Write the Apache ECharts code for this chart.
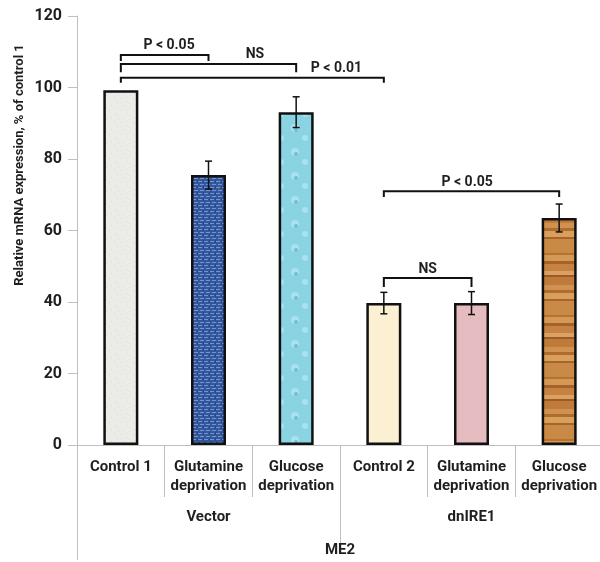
<!DOCTYPE html>
<html>
<head>
<meta charset="utf-8">
<script src="https://cdn.jsdelivr.net/npm/echarts@6/dist/echarts.min.js"></script>
<style>html,body{margin:0;padding:0;background:#fff}#c{width:600px;height:562px}</style>
</head>
<body>
<div id="c"></div>
<script>
// ---- data ----
const categories = ['Control 1', 'Glutamine\ndeprivation', 'Glucose\ndeprivation', 'Control 2', 'Glutamine\ndeprivation', 'Glucose\ndeprivation'];
const groups = ['Vector', 'dnIRE1'];
const topGroup = ['ME2'];
const values = [99.2, 75.5, 93.1, 39.7, 39.7, 63.5];
const errors = [0, 3.9, 4.3, 3.0, 3.2, 3.9];
const yTicks = [0, 20, 40, 60, 80, 100, 120];
const bracketFrom = [0, 0, 0, 3, 3];
const bracketTo = [1, 2, 3, 4, 5];
const bracketTop = [109.1, 106.6, 102.7, 46.7, 71.0];
const bracketLeg = [107.4, 104.3, 101.3, 44.2, 69.4];
const bracketLabelPos = [0.55, 1.53, 2.46, 3.5, 3.95];
const bracketLabels = ['P < 0.05', 'NS', 'P < 0.01', 'NS', 'P < 0.05'];
const yTitle = 'Relative mRNA expression, % of control 1';

// ---- texture helpers (style only) ----
function tile(w, h, draw) {
  const c = document.createElement('canvas');
  c.width = w; c.height = h;
  draw(c.getContext('2d'));
  return { image: c, repeat: 'repeat' };
}
const fills = [
  tile(12, 12, g => { g.fillStyle = '#ebebe8'; g.fillRect(0,0,12,12); g.fillStyle = '#dcdcd8';
    [[1,2],[6,1],[9,7],[3,9],[7,5],[10,11]].forEach(p => g.fillRect(p[0],p[1],1,1)); }),
  tile(6, 6, g => { g.fillStyle = '#34589f'; g.fillRect(0,0,6,6); g.fillStyle = '#7593cc';
    g.fillRect(0,1,4,1); g.fillRect(2,4,4,1); g.fillStyle = '#27467f'; g.fillRect(5,0,1,3); }),
  tile(24, 24, g => { g.fillStyle = '#8ad3e2'; g.fillRect(0,0,24,24);
    g.fillStyle = '#a9e2ee'; g.beginPath(); g.arc(7,8,4,0,Math.PI*2); g.fill();
    g.beginPath(); g.arc(17,18,3,0,Math.PI*2); g.fill();
    g.fillStyle = '#6cbfd3'; g.beginPath(); g.arc(8,10,2,0,Math.PI*2); g.fill(); }),
  tile(8, 8, g => { g.fillStyle = '#fcf0d3'; g.fillRect(0,0,8,8); }),
  tile(8, 8, g => { g.fillStyle = '#e5bcc0'; g.fillRect(0,0,8,8); g.fillStyle = '#dbaeb3'; g.fillRect(2,3,1,1); g.fillRect(6,6,1,1); }),
  tile(4, 62, g => { const s = [['#c98a45',5],['#b7722f',2],['#d49a55',6],['#a5622a',3],['#c58240',7],['#dba062',4],['#9c5a24',2],['#c07b3a',8],['#cf9250',5],['#b06b2d',3],['#d9a05c',6],['#a8652b',2],['#c98a45',9]];
    let y = 0; s.forEach(r => { g.fillStyle = r[0]; g.fillRect(0, y, 4, r[1]); y += r[1]; }); })
];

const FONT = 'Roboto, "Liberation Sans", sans-serif';
const TXT = '#1f1f1f';
const GREY = '#bfbfbf';

const chart = echarts.init(document.getElementById('c'), null, { renderer: 'canvas' });

chart.setOption({
  animation: false,
  grid: { left: 77, top: 16, width: 526, height: 429, containLabel: false, outerBoundsMode: 'none' },
  xAxis: [
    { type: 'category', data: categories, position: 'bottom',
      axisLine: { show: true, lineStyle: { color: GREY, width: 1 } },
      axisTick: { show: true, length: 52, interval: 0, lineStyle: { color: GREY } },
      axisLabel: { interval: 0, margin: 13, fontFamily: FONT, fontWeight: 'bold', fontSize: 15, color: TXT, lineHeight: 19 } },
    { type: 'category', data: groups, position: 'bottom',
      axisLine: { show: false },
      axisTick: { show: true, length: 101, lineStyle: { color: GREY } },
      axisLabel: { margin: 65, fontFamily: FONT, fontWeight: 'bold', fontSize: 15, color: TXT } },
    { type: 'category', data: topGroup, position: 'bottom',
      axisLine: { show: false },
      axisTick: { show: true, length: 115, lineStyle: { color: GREY } },
      axisLabel: { margin: 98, fontFamily: FONT, fontWeight: 'bold', fontSize: 15, color: TXT } }
  ],
  yAxis: {
    type: 'value', min: yTicks[0], max: yTicks[yTicks.length - 1], interval: yTicks[1] - yTicks[0],
    axisLine: { show: true, lineStyle: { color: GREY } },
    axisTick: { show: true, length: 9, lineStyle: { color: GREY } },
    splitLine: { show: false },
    axisLabel: { margin: 15, fontFamily: FONT, fontWeight: 'bold', fontSize: 16, color: TXT }
  },
  graphic: [{
    type: 'text', x: 20, y: 165, rotation: Math.PI / 2,
    style: { text: yTitle, font: 'bold 13px ' + FONT, fill: TXT, align: 'center', verticalAlign: 'middle' }
  }],
  series: [
    { type: 'bar', barWidth: 35, xAxisIndex: 0, z: 2,
      data: values.map((v, i) => ({ value: v, itemStyle: { color: fills[i] } })),
      itemStyle: { borderColor: '#111', borderWidth: 2.5 } },
    { type: 'custom', xAxisIndex: 0, clip: false, z: 10,
      data: values.map((v, i) => [i, v, errors[i]]),
      encode: { x: 0, y: 1 },
      renderItem: (params, api) => {
        const i = api.value(0), v = api.value(1), e = api.value(2);
        if (!e) return null;
        const hi = api.coord([i, v + e]), lo = api.coord([i, v - e]);
        const w = 3.5, st = { stroke: '#111', lineWidth: 1.5 };
        return { type: 'group', children: [
          { type: 'line', shape: { x1: hi[0], y1: hi[1], x2: lo[0], y2: lo[1] }, style: st },
          { type: 'line', shape: { x1: hi[0]-w, y1: hi[1], x2: hi[0]+w, y2: hi[1] }, style: st },
          { type: 'line', shape: { x1: lo[0]-w, y1: lo[1], x2: lo[0]+w, y2: lo[1] }, style: st }
        ]};
      } },
    { type: 'custom', xAxisIndex: 0, clip: false, z: 10,
      data: bracketFrom.map((f, k) => [f, bracketTop[k], bracketTo[k], bracketLeg[k], bracketLabelPos[k], k]),
      encode: { x: 0, y: 1 },
      renderItem: (params, api) => {
        const a = api.value(0), top = api.value(1), b = api.value(2), leg = api.value(3), lp = api.value(4), k = api.value(5);
        const p1 = api.coord([a, top]), p2 = api.coord([b, top]);
        const l1 = api.coord([a, leg]);
        const c0 = api.coord([0, top])[0], c1 = api.coord([1, top])[0];
        const lx = c0 + lp * (c1 - c0);
        const st = { stroke: '#111', lineWidth: 2, fill: null };
        return { type: 'group', children: [
          { type: 'polyline', shape: { points: [[p1[0], l1[1]], [p1[0], p1[1]], [p2[0], p1[1]], [p2[0], l1[1]]] }, style: st },
          { type: 'text', x: lx, y: p1[1] - 9,
            style: { text: bracketLabels[k], font: 'bold 14px ' + FONT, fill: TXT, align: 'center', verticalAlign: 'middle' } }
        ]};
      } }
  ]
});
</script>
</body>
</html>
